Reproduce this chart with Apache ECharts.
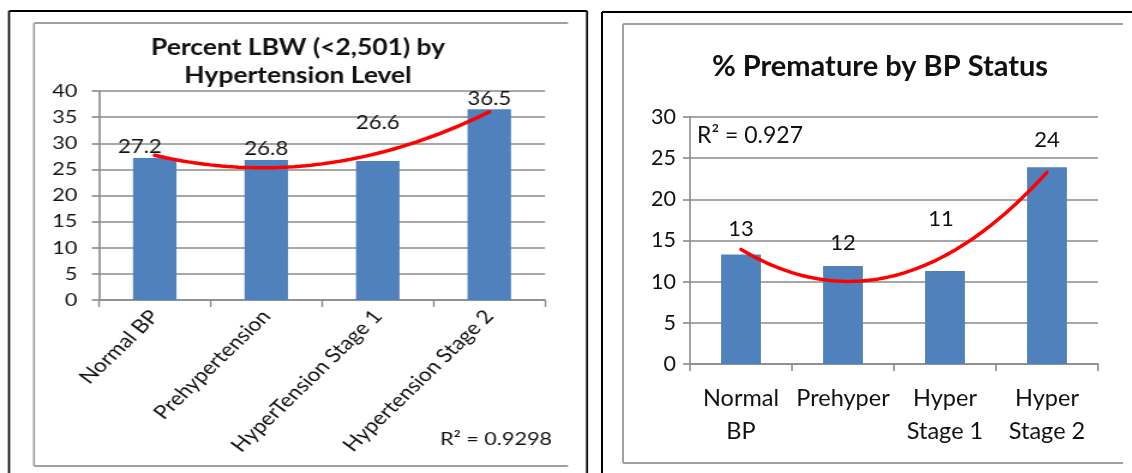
<!DOCTYPE html>
<html>
<head>
<meta charset="utf-8">
<script src="https://cdn.jsdelivr.net/npm/echarts@6/dist/echarts.min.js"></script>
<style>
  html, body { margin: 0; padding: 0; background: #fff; }
  #page { position: relative; width: 1132px; height: 473px; overflow: hidden; }
  /* the LBW panel is drawn in a narrower box and widened horizontally */
  #lbw { position: absolute; left: 0; top: 0; width: 492px; height: 473px; transform: scaleX(1.2); transform-origin: 0 0; }
  #preterm { position: absolute; left: 590px; top: 0; width: 542px; height: 473px; }
</style>
</head>
<body>
<div id="page">
  <div id="lbw"></div>
  <div id="preterm"></div>
</div>
<script>
// Low birth weight by hypertension level
const lbwCategories = ['Normal BP', 'Prehypertension', 'HyperTension Stage 1', 'Hypertension Stage 2'];
const lbwValues = [27.2, 26.8, 26.6, 36.5];
const lbwTicks = { min: 0, max: 40, interval: 5 };

// Premature births by blood pressure status
const pretermCategories = ['Normal\nBP', 'Prehyper', 'Hyper\nStage 1', 'Hyper\nStage 2'];
const pretermValues = [13.3, 11.9, 11.3, 23.9];
const pretermTicks = { min: 0, max: 30, interval: 5 };

const BAR = '#4F81BD';
const GRID = '#8a8a8a';
const FRAME = '#a0a0a0';
const INK = '#111';

// Least-squares quadratic trend over x = 1..n, with its R²
function quadFit(ys) {
  const n = ys.length;
  const s = [0, 0, 0, 0, 0], t = [0, 0, 0];
  ys.forEach((y, i) => {
    const x = i + 1;
    for (let k = 0; k < 5; k++) s[k] += Math.pow(x, k);
    for (let k = 0; k < 3; k++) t[k] += y * Math.pow(x, k);
  });
  const M = [[s[0], s[1], s[2], t[0]], [s[1], s[2], s[3], t[1]], [s[2], s[3], s[4], t[2]]];
  for (let c = 0; c < 3; c++) {
    for (let r = c + 1; r < 3; r++) {
      const f = M[r][c] / M[c][c];
      for (let k = c; k < 4; k++) M[r][k] -= f * M[c][k];
    }
  }
  const co = [0, 0, 0];
  for (let r = 2; r >= 0; r--) {
    let v = M[r][3];
    for (let k = r + 1; k < 3; k++) v -= M[r][k] * co[k];
    co[r] = v / M[r][r];
  }
  const f = x => co[0] + co[1] * x + co[2] * x * x;
  const mean = ys.reduce((a, b) => a + b, 0) / n;
  let ssTot = 0, ssRes = 0;
  ys.forEach((y, i) => { ssTot += (y - mean) ** 2; ssRes += (y - f(i + 1)) ** 2; });
  const pts = [];
  for (let k = 0; k <= 60; k++) { const x = 1 + (n - 1) * k / 60; pts.push([x, f(x)]); }
  return { pts, r2: 1 - ssRes / ssTot };
}

const lbwFit = quadFit(lbwValues);
const pretermFit = quadFit(pretermValues);
const fmtR2 = r => 'R² = ' + parseFloat(r.toFixed(4));

function line(x1, y1, x2, y2, color, w) {
  return { type: 'line', shape: { x1, y1, x2, y2 }, style: { stroke: color, lineWidth: w }, silent: true };
}

function axisStyle(font, size, extra) {
  return Object.assign({
    axisLine: { show: true, lineStyle: { color: GRID, width: 1.6 } },
    axisTick: { show: true, length: 7, lineStyle: { color: GRID, width: 1.6 } },
    splitLine: { lineStyle: { color: GRID, width: 1.6 } },
    axisLabel: { fontFamily: font, fontSize: size, color: INK }
  }, extra || {});
}

// ---------- LBW panel (coordinates are in the un-widened box) ----------
const SX = 1.2;
const lf = 'Lato';
const lbwOption = {
  animation: false,
  title: {
    text: 'Percent LBW (<2,501) by\nHypertension Level',
    left: 292 / SX, top: 29, textAlign: 'center',
    textStyle: { fontFamily: lf, fontWeight: 'bold', fontSize: 22, lineHeight: 28, color: INK }
  },
  grid: { left: 99 / SX, top: 91, width: 446 / SX, height: 209 },
  xAxis: [
    {
      type: 'category', data: lbwCategories,
      axisLine: { lineStyle: { color: GRID, width: 1.6 } },
      axisTick: { show: true, length: 7, lineStyle: { color: GRID, width: 1.4 } },
      axisLabel: { rotate: 49, margin: 13, interval: 0, fontFamily: lf, fontSize: 19, color: INK }
    },
    { type: 'value', min: 0.5, max: 4.5, show: false }
  ],
  yAxis: Object.assign({ type: 'value' }, lbwTicks, axisStyle(lf, 18), {
    axisTick: { show: true, length: 6, lineStyle: { color: GRID, width: 1.6 } },
    axisLabel: { margin: 18, fontFamily: lf, fontSize: 18, color: INK }
  }),
  series: [
    {
      type: 'bar', xAxisIndex: 0, barWidth: '39%',
      itemStyle: { color: BAR },
      label: { show: true, position: 'top', distance: 1, fontFamily: lf, fontSize: 18.5, color: INK },
      data: lbwValues.map((v, i) => {
        const offs = [[-12.5, 0], [0, 0], [0, -27], [0, 0]];
        return { value: v, label: { offset: offs[i] } };
      })
    },
    {
      type: 'line', xAxisIndex: 1, data: lbwFit.pts, showSymbol: false,
      lineStyle: { color: '#ff0000', width: 3.5, cap: 'round' }, silent: true
    }
  ],
  graphic: [
    line(9 / SX, 11, 587 / SX, 11, '#000', 2),
    line(9 / SX, 11, 9 / SX, 480, '#000', 2 / SX),
    line(587 / SX, 11, 587 / SX, 480, '#000', 2 / SX),
    line(34 / SX, 23, 568 / SX, 23, FRAME, 2),
    line(34 / SX, 23, 34 / SX, 466, FRAME, 2 / SX),
    line(34 / SX, 466, 568 / SX, 466, FRAME, 2),
    {
      type: 'text', left: 440 / SX, top: 430, silent: true,
      style: { text: fmtR2(lbwFit.r2), font: '18px Lato', fill: INK }
    }
  ]
};

// ---------- Premature panel (coordinates relative to its box at x = 590) ----------
const RX = 590;
const rf = 'Lato';
const pretermOption = {
  animation: false,
  title: {
    text: '% Premature by BP Status',
    left: 875 - RX, top: 45, textAlign: 'center',
    textStyle: { fontFamily: rf, fontWeight: 'bold', fontSize: 29, lineHeight: 34, color: INK }
  },
  grid: { left: 690 - RX, top: 117, width: 408, height: 247 },
  xAxis: [
    {
      type: 'category', data: pretermCategories,
      axisLine: { lineStyle: { color: GRID, width: 1.6 } },
      axisTick: { show: true, length: 7, lineStyle: { color: GRID, width: 1.6 } },
      axisLabel: { margin: 18, interval: 0, hideOverlap: false, fontFamily: rf, fontSize: 23.5, lineHeight: 33, color: INK }
    },
    { type: 'value', min: 0.5, max: 4.5, show: false }
  ],
  yAxis: Object.assign({ type: 'value' }, pretermTicks, axisStyle(rf, 21), {
    axisLabel: { margin: 14, fontFamily: rf, fontSize: 21.5, color: INK }
  }),
  series: [
    {
      type: 'bar', xAxisIndex: 0, barWidth: '39%',
      itemStyle: { color: BAR },
      label: {
        show: true, position: 'top', distance: 5, fontFamily: rf, fontSize: 22, color: INK,
        formatter: p => Math.round(p.value)
      },
      data: pretermValues.map((v, i) => {
        const offs = [[0, -10], [0, -7], [-4, -36], [0, -11]];
        return { value: v, label: { offset: offs[i] } };
      })
    },
    {
      type: 'line', xAxisIndex: 1, data: pretermFit.pts, showSymbol: false,
      lineStyle: { color: '#ff0000', width: 3.5, cap: 'round' }, silent: true
    }
  ],
  graphic: [
    line(602 - RX, 12, 560, 12, '#000', 2),
    line(602 - RX, 12, 602 - RX, 480, '#000', 2),
    line(623 - RX, 24, 1123 - RX, 24, FRAME, 2),
    line(623 - RX, 24, 623 - RX, 463, FRAME, 2),
    line(623 - RX, 463, 1123 - RX, 463, FRAME, 2),
    {
      type: 'text', left: 697 - RX, top: 124, silent: true,
      style: { text: fmtR2(pretermFit.r2), font: '23px Lato', fill: INK }
    }
  ]
};

echarts.init(document.getElementById('lbw'), null, { renderer: 'canvas' }).setOption(lbwOption);
echarts.init(document.getElementById('preterm'), null, { renderer: 'canvas' }).setOption(pretermOption);
</script>
</body>
</html>
